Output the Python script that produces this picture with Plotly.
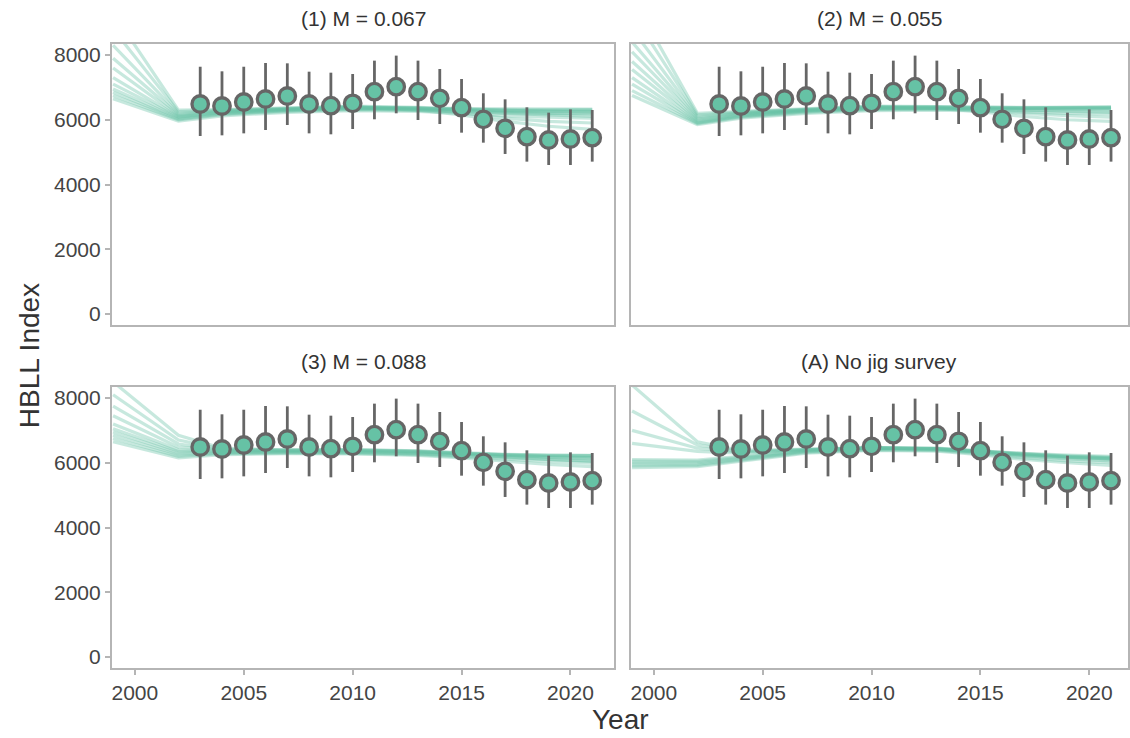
import plotly.graph_objects as go

# ---------------- data ----------------
obs_years = list(range(2003, 2022))
obs_index = [6486, 6425, 6548, 6641, 6734, 6486, 6435, 6507, 6867, 7022,
             6867, 6662, 6373, 6014, 5736, 5478, 5375, 5406, 5447]
obs_upper = [7638, 7496, 7638, 7753, 7743, 7485, 7454, 7413, 7826, 7981,
             7826, 7568, 7259, 6817, 6631, 6384, 6219, 6322, 6301]
obs_lower = [5498, 5519, 5580, 5683, 5838, 5580, 5550, 5714, 6014, 6199,
             5992, 5869, 5601, 5292, 4943, 4706, 4603, 4603, 4706]

draw_years = [1999, 2002, 2004, 2007, 2010, 2013, 2015, 2017, 2019, 2021]

draws_m067 = [
    [6650, 5960, 6120, 6230, 6280, 6260, 6200, 6120, 6080, 6050],
    [6750, 6000, 6160, 6260, 6310, 6290, 6240, 6200, 6180, 6170],
    [6850, 6020, 6180, 6280, 6330, 6320, 6290, 6260, 6250, 6250],
    [6950, 6050, 6200, 6300, 6350, 6340, 6310, 6300, 6300, 6310],
    [7100, 6080, 6220, 6310, 6360, 6350, 6330, 6320, 6320, 6330],
    [7300, 6100, 6230, 6320, 6370, 6360, 6320, 6280, 6260, 6240],
    [7600, 6130, 6250, 6330, 6380, 6370, 6300, 6200, 6150, 6100],
    [7900, 6160, 6270, 6340, 6390, 6330, 6220, 6050, 5950, 5900],
    [8300, 6200, 6280, 6350, 6400, 6300, 6150, 5950, 5800, 5700],
    [8800, 6250, 6300, 6360, 6410, 6360, 6280, 6230, 6200, 6200],
    [9300, 6300, 6310, 6370, 6420, 6380, 6330, 6300, 6290, 6290],
]
draws_m055 = [
    [6750, 5850, 6050, 6200, 6280, 6300, 6270, 6230, 6200, 6180],
    [6900, 5880, 6080, 6230, 6310, 6330, 6310, 6290, 6280, 6280],
    [7100, 5900, 6100, 6250, 6330, 6350, 6340, 6340, 6340, 6350],
    [7300, 5920, 6120, 6270, 6350, 6370, 6360, 6360, 6370, 6380],
    [7550, 5950, 6140, 6280, 6360, 6380, 6370, 6370, 6380, 6400],
    [7800, 5980, 6160, 6290, 6370, 6380, 6340, 6290, 6260, 6230],
    [8100, 6020, 6180, 6300, 6380, 6370, 6300, 6200, 6130, 6080],
    [8400, 6060, 6200, 6310, 6390, 6350, 6250, 6100, 6000, 5950],
    [8800, 6100, 6220, 6320, 6400, 6390, 6360, 6340, 6330, 6330],
    [9300, 6150, 6240, 6330, 6410, 6400, 6380, 6370, 6370, 6370],
    [9800, 6200, 6260, 6340, 6420, 6410, 6390, 6380, 6380, 6380],
]
draws_m088 = [
    [6650, 6150, 6250, 6280, 6270, 6230, 6150, 6050, 5950, 5880],
    [6750, 6200, 6280, 6300, 6290, 6250, 6180, 6100, 6040, 5990],
    [6850, 6250, 6300, 6320, 6310, 6270, 6210, 6150, 6100, 6060],
    [6950, 6300, 6320, 6340, 6330, 6290, 6240, 6190, 6150, 6120],
    [7050, 6350, 6340, 6350, 6350, 6310, 6260, 6220, 6190, 6170],
    [7200, 6400, 6360, 6360, 6370, 6330, 6280, 6240, 6220, 6210],
    [7450, 6480, 6380, 6370, 6380, 6340, 6290, 6250, 6230, 6220],
    [7750, 6580, 6400, 6380, 6390, 6350, 6270, 6180, 6100, 6040],
    [8100, 6700, 6420, 6390, 6400, 6360, 6300, 6230, 6180, 6150],
    [8500, 6850, 6450, 6400, 6410, 6370, 6310, 6260, 6240, 6230],
]
draws_nojig = [
    [5850, 5880, 6050, 6300, 6380, 6360, 6250, 6100, 6000, 5920],
    [5900, 5920, 6080, 6320, 6400, 6380, 6280, 6150, 6060, 6000],
    [5950, 5960, 6110, 6340, 6420, 6400, 6310, 6200, 6120, 6060],
    [6000, 6000, 6140, 6360, 6440, 6420, 6340, 6240, 6170, 6120],
    [6050, 6040, 6170, 6380, 6460, 6440, 6360, 6270, 6210, 6170],
    [6100, 6080, 6200, 6390, 6470, 6450, 6370, 6290, 6240, 6200],
    [6600, 6350, 6300, 6400, 6450, 6420, 6330, 6220, 6150, 6100],
    [7000, 6450, 6330, 6410, 6460, 6430, 6350, 6250, 6190, 6140],
    [7600, 6550, 6350, 6410, 6460, 6430, 6340, 6240, 6170, 6120],
    [8400, 6650, 6380, 6420, 6470, 6440, 6360, 6260, 6200, 6160],
]

panel_titles = ["(1) M = 0.067", "(2) M = 0.055", "(3) M = 0.088", "(A) No jig survey"]
panel_draws = [draws_m067, draws_m055, draws_m088, draws_nojig]
x_ticks = [2000, 2005, 2010, 2015, 2020]
y_ticks = [0, 2000, 4000, 6000, 8000]

# ---------------- style ----------------
GREEN = "#66C2A5"
DARK = "#666666"
FRAME = "#b5b5b5"
FONT = "Liberation Sans, Arial, sans-serif"

W, H = 1130, 738
ML, MT, MB, MR = 112, 44, 70, 0
pw, ph = W - ML - MR, H - MT - MB

def px_x(p):
    return (p - ML) / pw

def px_y(p):
    return (H - MB - p) / ph

x_domains = [[0, px_x(615)], [px_x(632), 1.0]]
y_domains = [[px_y(325), 1.0], [0, px_y(387)]]
x_ranges = [[1998.95, 2022.0], [1998.95, 2021.78]]
y_range = [-340, 8340]

fig = go.Figure()
layout = dict(
    width=W, height=H,
    margin=dict(l=ML, r=MR, t=MT, b=MB),
    paper_bgcolor="white", plot_bgcolor="white",
    showlegend=False,
    font=dict(family=FONT, color="#444444", size=21),
)

annotations = []
for i in range(4):
    row, col = divmod(i, 2)
    k = "" if i == 0 else str(i + 1)
    xa, ya = "x" + k, "y" + k
    for d in panel_draws[i]:
        fig.add_trace(go.Scatter(
            x=draw_years, y=d, mode="lines", xaxis=xa, yaxis=ya,
            line=dict(color=GREEN, width=3.2), opacity=0.36,
            hoverinfo="skip"))
    fig.add_trace(go.Scatter(
        x=obs_years, y=obs_index, mode="markers", xaxis=xa, yaxis=ya,
        error_y=dict(type="data", symmetric=False,
                     array=[u - v for u, v in zip(obs_upper, obs_index)],
                     arrayminus=[v - l for v, l in zip(obs_index, obs_lower)],
                     color=DARK, thickness=2.8, width=0),
        marker=dict(size=16.5, color=GREEN, line=dict(color=DARK, width=3.3)),
        cliponaxis=False))

    bottom = row == 1
    left = col == 0
    layout["xaxis" + k] = dict(
        domain=x_domains[col], range=x_ranges[col], anchor=ya,
        showgrid=False, zeroline=False,
        showline=True, mirror=True, linecolor=FRAME, linewidth=2.2,
        tickvals=x_ticks, ticks="outside" if bottom else "",
        ticklen=5, tickcolor=FRAME, tickwidth=1.5,
        showticklabels=bottom, tickfont=dict(size=21, color="#444444"),
    )
    layout["yaxis" + k] = dict(
        domain=y_domains[row], range=y_range, anchor=xa,
        showgrid=False, zeroline=False,
        showline=True, mirror=True, linecolor=FRAME, linewidth=2.2,
        tickvals=y_ticks, ticks="outside" if left else "",
        ticklen=5, tickcolor=FRAME, tickwidth=1.5,
        showticklabels=left, tickfont=dict(size=21, color="#444444"),
    )
    cx = (x_domains[col][0] + x_domains[col][1]) / 2
    annotations.append(dict(
        text=panel_titles[i], xref="paper", yref="paper",
        x=cx, y=y_domains[row][1], yshift=26, xanchor="center", yanchor="middle",
        showarrow=False, font=dict(size=21, color="#333333")))

annotations.append(dict(
    text="HBLL Index", xref="paper", yref="paper", x=px_x(29), y=px_y(356),
    xanchor="center", yanchor="middle", textangle=-90, showarrow=False,
    font=dict(size=28, color="#333333")))
annotations.append(dict(
    text="Year", xref="paper", yref="paper", x=px_x(622), y=px_y(719),
    xanchor="center", yanchor="middle", showarrow=False,
    font=dict(size=28, color="#333333")))
layout["annotations"] = annotations

fig.update_layout(**layout)
fig.write_html("out.html",
               config={"displayModeBar": False},
               post_script="document.body.style.margin='0';"
                           "document.body.style.overflow='hidden';")
